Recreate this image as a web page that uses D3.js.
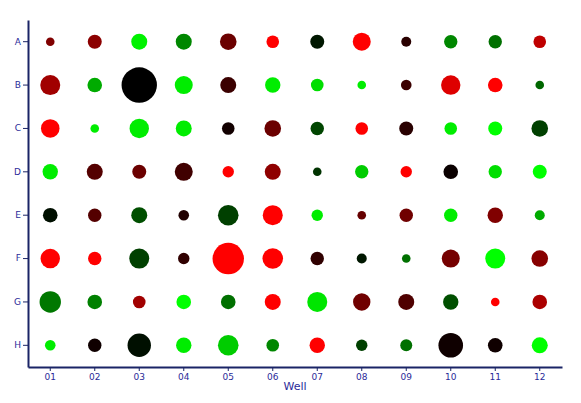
<!DOCTYPE html>
<html><head><meta charset="utf-8">
<script src="https://cdn.jsdelivr.net/npm/d3@7"></script>
<style>body{margin:0;background:#fff;} svg{display:block;}</style>
</head><body>
<svg id="chart" width="581" height="403"></svg>
<script>
const rows = ["A","B","C","D","E","F","G","H"];
const cols = ["01","02","03","04","05","06","07","08","09","10","11","12"];
// bubble radius estimates per row
const sizeA = [4.3,7,8,8,8.3,6.3,7,9,5,6.7,6.7,6.3];
const sizeB = [10,7.3,17.7,9,8,7.7,6.3,4.3,5.3,9.7,7.3,4.3];
const sizeC = [9.3,4.3,9.7,8,6.3,8.3,6.7,6.3,7,6.3,7,8.3];
const sizeD = [7.7,8,7,9,5.7,8,4.3,6.7,5.7,7.3,6.7,7];
const sizeE = [7.3,6.7,8,5.3,10.3,10,5.7,4.3,6.7,6.7,7.7,5];
const sizeF = [9.7,6.7,10,5.7,15.7,10.3,6.7,5,4.3,9,10,8.3];
const sizeG = [10.7,7.3,6.3,7.3,7.3,8,10,8.7,8,7.7,4.3,7.3];
const sizeH = [5.3,6.7,11.7,7.7,10.3,6.3,7.7,5.7,6,12.3,7.3,8];
// expression values (-1 red .. 0 black .. 1 green)
const valA = [-0.5,-0.55,0.95,0.53,-0.42,-1,0.09,-1,-0.16,0.53,0.44,-0.75];
const valB = [-0.63,0.67,0,0.93,-0.23,0.93,0.87,0.93,-0.23,-0.87,-1,0.4];
const valC = [-1,0.93,0.93,0.93,-0.07,-0.42,0.27,-1,-0.16,0.93,1,0.25];
const valD = [0.93,-0.33,-0.42,-0.25,-1,-0.56,0.2,0.8,-1,-0.04,0.87,1];
const valE = [0.06,-0.33,0.31,-0.13,0.25,-1,0.93,-0.4,-0.44,0.93,-0.5,0.67];
const valF = [-1,-1,0.25,-0.19,-1,-1,-0.19,0.09,0.44,-0.46,1,-0.53];
const valG = [0.47,0.5,-0.63,1,0.44,-1,0.9,-0.44,-0.31,0.31,-1,-0.67];
const valH = [0.93,-0.06,0.06,0.93,0.8,0.53,-1,0.25,0.44,-0.06,-0.06,1];

const sizes = [sizeA,sizeB,sizeC,sizeD,sizeE,sizeF,sizeG,sizeH];
const vals = [valA,valB,valC,valD,valE,valF,valG,valH];
const data = [];
rows.forEach((rw,i)=>cols.forEach((c,j)=>data.push({row:rw,col:c,size:sizes[i][j],val:vals[i][j]})));

const svg = d3.select("#chart");
const mLeft = 28, mRight = 562, mTop = 20, mBottom = 367;
const axisColor = "#1a2466", textColor = "#2b2b99";

const x = d3.scaleBand().domain(cols).range([mLeft,mRight]);
const y = d3.scaleBand().domain(rows).range([mTop,mBottom]);
const rScale = d3.scaleLinear().domain([0,18]).range([0,18]);
const color = d3.scaleLinear().domain([-1,0,1]).range(["#ff0000","#000000","#00ff00"]);

svg.append("g").selectAll("circle").data(data).join("circle")
  .attr("cx", d=>x(d.col)+x.bandwidth()/2)
  .attr("cy", d=>y(d.row)+y.bandwidth()/2)
  .attr("r", d=>rScale(d.size))
  .attr("fill", d=>color(d.val));

const xAxis = svg.append("g").attr("transform",`translate(0,${mBottom})`)
  .call(d3.axisBottom(x).tickSize(4).tickPadding(3).tickSizeOuter(0));
const yAxis = svg.append("g").attr("transform",`translate(${mLeft},0)`)
  .call(d3.axisLeft(y).tickSize(5).tickPadding(2).tickSizeOuter(0));
[xAxis,yAxis].forEach(g=>{
  g.select(".domain").attr("stroke",axisColor).attr("stroke-width",2);
  g.selectAll(".tick line").attr("stroke",axisColor);
  g.selectAll(".tick text").attr("fill",textColor).style("font-family","DejaVu Sans, Verdana, sans-serif").style("font-size","9px");
});
svg.append("text").attr("x",(mLeft+mRight)/2).attr("y",390)
  .attr("text-anchor","middle").attr("fill",textColor)
  .style("font-family","DejaVu Sans, Verdana, sans-serif").style("font-size","11px").text("Well");
</script>
</body></html>
